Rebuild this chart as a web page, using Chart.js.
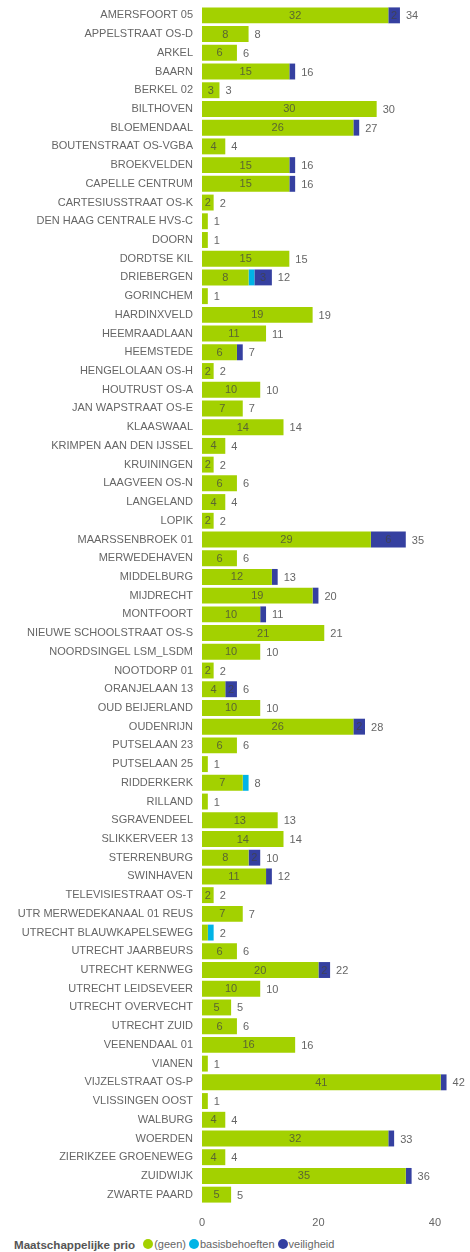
<!DOCTYPE html>
<html>
<head>
<meta charset="utf-8">
<script src="https://cdn.jsdelivr.net/npm/chart.js@4/dist/chart.umd.min.js"></script>
<style>
  html, body { margin: 0; padding: 0; background: #fff; }
  body { width: 470px; height: 1252px; position: relative; overflow: hidden; font-family: "Liberation Sans", Arial, sans-serif; }
  #wrap { position: absolute; left: 0; top: 0; width: 470px; height: 1232px; }
  #legend { position: absolute; left: 14px; top: 1236px; height: 16px; display: flex; align-items: center; font-size: 11px; color: #666; white-space: nowrap; }
  #legend .title { font-weight: bold; color: #555; margin-right: 8px; font-size: 11.6px; }
  #legend .item { display: flex; align-items: center; margin-right: 3px; }
  #legend .dot { width: 10px; height: 10px; border-radius: 50%; margin-right: 1px; display: inline-block; }
</style>
</head>
<body>
<div id="wrap"><canvas id="c"></canvas></div>
<div id="legend"></div>
<script>
const categories = [
  "AMERSFOORT 05","APPELSTRAAT OS-D","ARKEL","BAARN","BERKEL 02","BILTHOVEN","BLOEMENDAAL",
  "BOUTENSTRAAT OS-VGBA","BROEKVELDEN","CAPELLE CENTRUM","CARTESIUSSTRAAT OS-K",
  "DEN HAAG CENTRALE HVS-C","DOORN","DORDTSE KIL","DRIEBERGEN","GORINCHEM","HARDINXVELD",
  "HEEMRAADLAAN","HEEMSTEDE","HENGELOLAAN OS-H","HOUTRUST OS-A","JAN WAPSTRAAT OS-E",
  "KLAASWAAL","KRIMPEN AAN DEN IJSSEL","KRUININGEN","LAAGVEEN OS-N","LANGELAND","LOPIK",
  "MAARSSENBROEK 01","MERWEDEHAVEN","MIDDELBURG","MIJDRECHT","MONTFOORT",
  "NIEUWE SCHOOLSTRAAT OS-S","NOORDSINGEL LSM_LSDM","NOOTDORP 01","ORANJELAAN 13",
  "OUD BEIJERLAND","OUDENRIJN","PUTSELAAN 23","PUTSELAAN 25","RIDDERKERK","RILLAND",
  "SGRAVENDEEL","SLIKKERVEER 13","STERRENBURG","SWINHAVEN","TELEVISIESTRAAT OS-T",
  "UTR MERWEDEKANAAL 01 REUS","UTRECHT BLAUWKAPELSEWEG","UTRECHT JAARBEURS","UTRECHT KERNWEG",
  "UTRECHT LEIDSEVEER","UTRECHT OVERVECHT","UTRECHT ZUID","VEENENDAAL 01","VIANEN",
  "VIJZELSTRAAT OS-P","VLISSINGEN OOST","WALBURG","WOERDEN","ZIERIKZEE GROENEWEG","ZUIDWIJK","ZWARTE PAARD"
];
const seriesNames = ["(geen)", "basisbehoeften", "veiligheid"];
const geen = [32,8,6,15,3,30,26,4,15,15,2,1,1,15,8,1,19,11,6,2,10,7,14,4,2,6,4,2,29,6,12,19,10,21,10,2,4,10,26,6,1,7,1,13,14,8,11,2,7,1,6,20,10,5,6,16,1,41,1,4,32,4,35,5];
const basisbehoeften = [0,0,0,0,0,0,0,0,0,0,0,0,0,0,1,0,0,0,0,0,0,0,0,0,0,0,0,0,0,0,0,0,0,0,0,0,0,0,0,0,0,1,0,0,0,0,0,0,0,1,0,0,0,0,0,0,0,0,0,0,0,0,0,0];
const veiligheid = [2,0,0,1,0,0,1,0,1,1,0,0,0,0,3,0,0,0,1,0,0,0,0,0,0,0,0,0,6,0,1,1,1,0,0,0,2,0,2,0,0,0,0,0,0,2,1,0,0,0,0,2,0,0,0,0,0,1,0,0,1,0,1,0];
const xTicks = [0, 20, 40];
const colors = ["#A3D100", "#00B4E6", "#3540A0"];

const seriesData = [geen, basisbehoeften, veiligheid];
const totals = categories.map((_, i) => geen[i] + basisbehoeften[i] + veiligheid[i]);

const FONT = "'Liberation Sans', Arial, sans-serif";

const labelPlugin = {
  id: 'barLabels',
  afterDatasetsDraw(chart) {
    const ctx = chart.ctx;
    ctx.save();
    ctx.font = "11px " + FONT;
    ctx.textBaseline = 'middle';
    chart.data.datasets.forEach((ds, di) => {
      const meta = chart.getDatasetMeta(di);
      meta.data.forEach((bar, i) => {
        const v = ds.data[i];
        if (v >= 2) {
          const cx = (bar.x + bar.base) / 2;
          ctx.fillStyle = 'rgba(65,65,65,0.75)';
          ctx.textAlign = 'center';
          ctx.fillText(String(v), cx, bar.y + 0.5);
        }
      });
    });
    const xs = chart.scales.x;
    const meta0 = chart.getDatasetMeta(0);
    totals.forEach((t, i) => {
      const x = xs.getPixelForValue(t) + 6;
      const y = meta0.data[i].y + 1;
      ctx.fillStyle = '#666';
      ctx.textAlign = 'left';
      ctx.fillText(String(t), x, y);
    });
    ctx.restore();
  }
};

new Chart(document.getElementById('c'), {
  type: 'bar',
  data: {
    labels: categories,
    datasets: seriesNames.map((n, k) => ({
      label: n,
      data: seriesData[k],
      backgroundColor: colors[k],
      borderWidth: 0,
      categoryPercentage: 1,
      barPercentage: 0.85
    }))
  },
  options: {
    indexAxis: 'y',
    responsive: true,
    maintainAspectRatio: false,
    animation: false,
    layout: { padding: { top: 6, right: 6, left: 0, bottom: 0 } },
    plugins: {
      legend: { display: false },
      tooltip: { enabled: false }
    },
    scales: {
      x: {
        stacked: true,
        min: 0,
        max: 45,
        afterBuildTicks(scale) { scale.ticks = xTicks.map(v => ({ value: v })); },
        afterFit(scale) { scale.height = 28; scale.paddingLeft = 0; scale.paddingRight = 0; },
        grid: { display: false, drawTicks: false },
        border: { display: false },
        ticks: { padding: 12, color: '#666', font: { family: FONT, size: 11 } }
      },
      y: {
        stacked: true,
        afterFit(scale) { scale.width = 202; scale.paddingTop = 0; scale.paddingBottom = 0; },
        grid: { display: false, drawTicks: false },
        border: { display: false },
        ticks: { padding: 9, color: '#666', autoSkip: false, font: { family: FONT, size: 11 } }
      }
    }
  },
  plugins: [labelPlugin]
});

const lg = document.getElementById('legend');
const t = document.createElement('span');
t.className = 'title';
t.textContent = 'Maatschappelijke prio';
lg.appendChild(t);
seriesNames.forEach((n, k) => {
  const it = document.createElement('span');
  it.className = 'item';
  const d = document.createElement('span');
  d.className = 'dot';
  d.style.background = colors[k];
  const s = document.createElement('span');
  s.textContent = n;
  it.appendChild(d); it.appendChild(s);
  lg.appendChild(it);
});
</script>
</body>
</html>
